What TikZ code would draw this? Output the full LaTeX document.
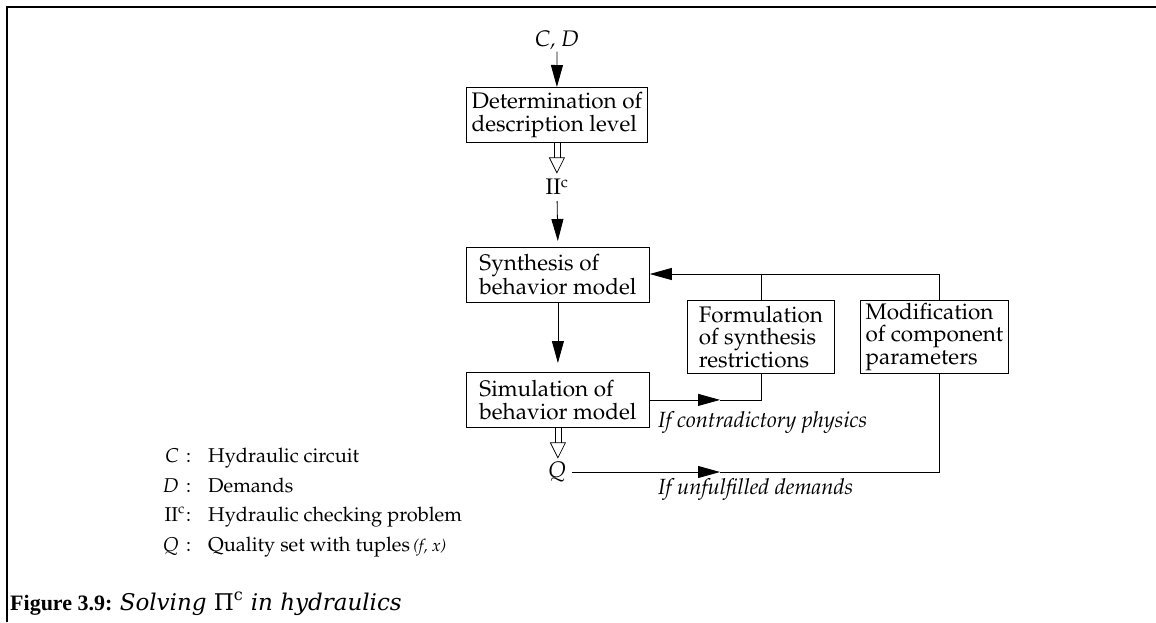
\documentclass[tikz,border=0pt]{standalone}
\usepackage[T1]{fontenc}
\usepackage{fontspec}
\usetikzlibrary{arrows.meta}
\newfontfamily\capfont{Liberation Serif}
\newfontfamily\capitfont{DejaVu Serif}
\newcommand\palfont{\fontencoding{T1}\fontfamily{ppl}\selectfont}
\newcommand\bfontx{\palfont\fontsize{22.5}{22.5}\selectfont}
\newcommand\dfont{\palfont\fontsize{20}{24}\selectfont}
\newcommand\ifont{\palfont\itshape\fontsize{22}{24}\selectfont}
\begin{document}
\begin{tikzpicture}[x=1pt,y=-1pt,
  box/.style={draw, line width=0.8pt, anchor=north west, align=left,
    inner sep=0pt, minimum height=55pt, font=\bfontx},
  lbl/.style={inner sep=0pt, font=\bfontx},
  leg/.style={inner sep=0pt, font=\dfont},
  tipF/.style={-{Triangle[length=22pt,width=12pt]}, line width=0.8pt},
  link/.style={line width=0.8pt},
  hollowdown/.pic={
    \draw[line width=0.7pt] (-3,0) -- (-3,15) (3,0) -- (3,15);
    \draw[line width=0.7pt] (-7.5,15) -- (7.5,15) -- (0,30) -- cycle;
  }]
\useasboundingbox (0,0) rectangle (1156,622);
% page frame
\draw[line width=2.3pt] (7,622) -- (7,7) -- (1156,7);

% main chain
\node[lbl, font=\bfontx\itshape] (cd) at (557,40) {C, D};
\node[box, minimum width=181pt] (det) at (466,87) {Determination of\\description level};
\node[lbl] (pic) at (557,187) {II\textsuperscript{c}};
\node[box, minimum width=183pt] (syn) at (466,247) {Synthesis of\\behavior model};
\node[box, minimum width=183pt] (sim) at (466,372) {Simulation of\\behavior model};
\node[box, minimum width=147pt, minimum height=73pt] (form) at (687,300) {Formulation\\of synthesis\\restrictions};
\node[box, minimum width=148pt, minimum height=73pt] (mod) at (860,300) {Modification\\of component\\parameters};
\node[lbl, font=\bfontx\itshape] (q) at (557,472) {Q};

\draw[tipF, shorten <=2pt] (cd.south) -- (det.north);
\pic at (det.south) {hollowdown};
\draw[tipF, shorten <=6pt, shorten >=6pt] (pic.south) -- (syn.north);
\draw[tipF, shorten >=9pt] (syn.south) -- (sim.north);
\pic at (sim.south) {hollowdown};

% feedback loop
\coordinate (fbR) at (939,274);
\coordinate (tipx) at (720,0);
\draw[tipF] (fbR) -- (fbR -| syn.east);
\draw[link] (form.north) -- (form.north |- fbR);
\draw[link] (fbR) -- (fbR |- mod.north);
\draw[tipF] (sim.east) -- (sim.east -| tipx);
\draw[link] (sim.east -| tipx) -- (sim.east -| form.south) -- (form.south);
\draw[tipF, shorten <=6pt] (q.east) -- (q.east -| tipx);
\draw[link] (q.east -| tipx) -- (q.east -| fbR) -- (fbR |- mod.south);

\node[lbl, font=\ifont, anchor=base west] (lc) at (658,427) {If contradictory physics};
\node[lbl, font=\ifont, anchor=base west] (lu) at (658,494) {If unfulfilled demands};

% legend
\node[leg, anchor=base east] (s1) at (179,462) {\itshape C};
\node[leg, anchor=base west] (d1) at (186,462) {\makebox[22pt][l]{:}Hydraulic circuit};
\node[leg, anchor=base east] (s2) at (179,492) {\itshape D};
\node[leg, anchor=base west] (d2) at (186,492) {\makebox[22pt][l]{:}Demands};
\node[leg, anchor=base east] (s3) at (185,521) {II\textsuperscript{c}};
\node[leg, anchor=base west] (d3) at (186,521) {\makebox[22pt][l]{:}Hydraulic checking problem};
\node[leg, anchor=base east] (s4) at (179,551) {\itshape Q};
\node[leg, anchor=base west] (d4) at (186,551) {\makebox[22pt][l]{:}Quality set with tuples\,{\itshape\fontsize{17}{20}\selectfont(f, x)}};

% caption
\node[inner sep=0pt, anchor=base west, font=\capfont\fontsize{22}{26}\selectfont] (cap) at (10,610)
  {\textbf{Figure 3.9:} {\capitfont\fontsize{23}{26}\selectfont\itshape Solving \upshape Π\textsuperscript{c} \itshape in hydraulics}};
\end{tikzpicture}
\end{document}
